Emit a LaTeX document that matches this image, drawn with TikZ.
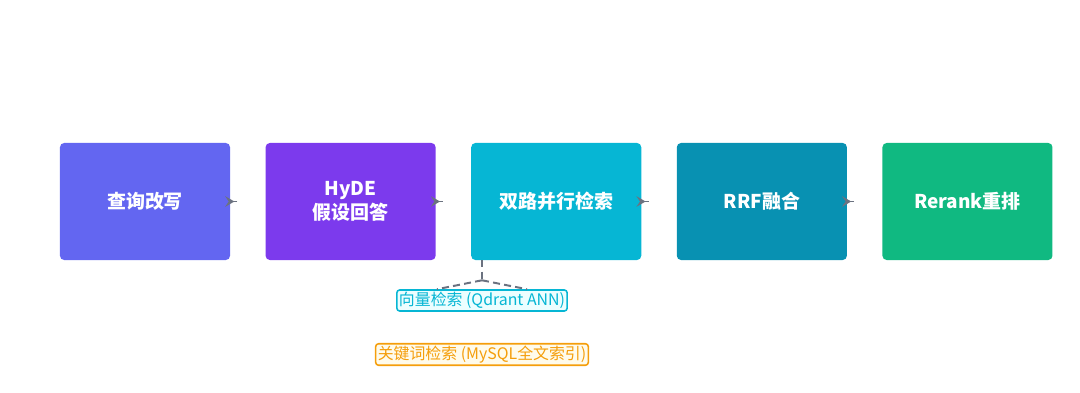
\documentclass[tikz,border=0pt]{standalone}
\usepackage{fontspec}
\setmainfont{Noto Sans CJK SC}
\usepackage{xcolor}
\usepackage{tikz}
\usetikzlibrary{positioning,arrows.meta}

\definecolor{cRewrite}{HTML}{6366F1}
\definecolor{cHyde}{HTML}{7C3AED}
\definecolor{cDual}{HTML}{06B6D4}
\definecolor{cRrf}{HTML}{0891B2}
\definecolor{cRerank}{HTML}{10B981}
\definecolor{cVecFill}{HTML}{ECFEFF}
\definecolor{cKw}{HTML}{F59E0B}
\definecolor{cKwFill}{HTML}{FFFBEB}
\definecolor{cLink}{HTML}{6B7280}

\tikzset{
  stage/.style={rounded corners=3pt, minimum width=4.25cm, minimum height=2.925cm,
    text=white, font=\bfseries\fontsize{13.5}{17}\selectfont, align=center},
  flow/.style={draw=cLink, line width=1pt, -{Stealth[length=6.5pt,width=7.5pt,inset=2.5pt]},
    shorten <=-5pt, shorten >=22pt},
  tag/.style={draw, line width=1.1pt, rounded corners=2pt, inner sep=1.5pt,
    minimum height=0.525cm, font=\fontsize{11.3}{13}\selectfont},
  branch/.style={draw=cLink, line width=1.4pt, dash pattern=on 5pt off 3pt}
}

\begin{document}
\begin{tikzpicture}[x=0.025cm, y=-0.025cm, node distance=0.875cm]
\useasboundingbox (0,0) rectangle (1080,393);
% stages
\node[stage, fill=cRewrite] (rewrite) at (145,201.5) {查询改写};
\node[stage, fill=cHyde, right=of rewrite] (hyde) {HyDE\\假设回答};
\node[stage, fill=cDual, right=of hyde] (dual) {双路并行检索};
\node[stage, fill=cRrf, right=of dual] (rrf) {RRF融合};
\node[stage, fill=cRerank, right=of rrf] (rerank) {Rerank重排};
% arrows
\draw[flow] (rewrite.east) -- (hyde.west);
\draw[flow] (hyde.east) -- (dual.west);
\draw[flow] (dual.east) -- (rrf.west);
\draw[flow] (rrf.east) -- (rerank.west);
% retrieval paths
\node[tag, draw=cDual, fill=cVecFill, text=cDual] (vec) at (482,300.5) {向量检索 (Qdrant ANN)};
\node[tag, draw=cKw, fill=cKwFill, text=cKw] (kw) at (482,354.5) {关键词检索 (MySQL全文索引)};
\coordinate (tap) at (dual.south -| vec.north);
\coordinate[below=0.5cm of tap] (split);
\draw[branch] (tap) -- (split);
\draw[branch] (split) -- ([xshift=-1.125cm]vec.north);
\draw[branch] (split) -- ([xshift=1.125cm]vec.north);
\end{tikzpicture}
\end{document}
